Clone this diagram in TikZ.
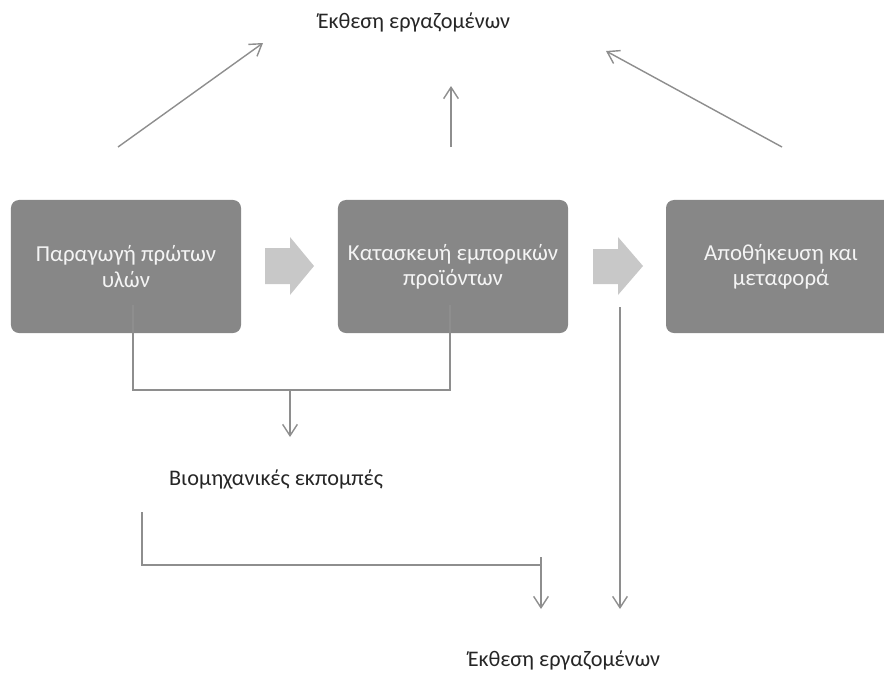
\documentclass[tikz,border=0pt]{standalone}
\usepackage{fontspec}
\setmainfont{Carlito}
\usetikzlibrary{arrows.meta}
\definecolor{boxgray}{HTML}{878787}
\definecolor{boxtext}{HTML}{F4F4F4}
\definecolor{linegray}{HTML}{8E8E8E}
\definecolor{flowgray}{HTML}{C8C8C8}
\definecolor{notetext}{HTML}{262626}
\tikzset{
  stage/.style={shape=rectangle,rounded corners=0.24cm,fill=boxgray,text=boxtext,align=center,inner sep=0pt,
    minimum width=6.9cm,minimum height=3.99cm,font=\fontsize{19.5}{21.5}\selectfont},
  note/.style={align=center,inner sep=0pt,text=notetext,font=\fontsize{19}{22}\selectfont},
  wire/.style={draw=linegray,line width=1.2pt},
  conn/.style={wire,-{Straight Barb[length=3.4mm,width=4.4mm,line width=1.2pt]}},
  flow/.style={fill=flowgray,draw=none}
}

\begin{document}
\begin{tikzpicture}[x=0.03cm,y=-0.03cm]
\useasboundingbox (0,0) rectangle (884,673);
\clip (0,0) rectangle (884,673);

\node[stage] (0) at (126,266.5) {Παραγωγή πρώτων\\υλών};
\node[stage] (1) at (453,266.5) {Κατασκευή εμπορικών\\προϊόντων};
\node[stage] (2) at (781,266.5) {Αποθήκευση και\\μεταφορά};
\node[note] (3) at (414,22) {Έκθεση εργαζομένων};
\node[note] (4) at (276,480) {Βιομηχανικές εκπομπές};
\node[note] (5) at (564,660) {Έκθεση εργαζομένων};

% block arrows between the stages
\path[flow] (265,248) -- (290,248) -- (290,237) -- (314,266) -- (290,295) -- (290,284) -- (265,284) -- cycle;
\path[flow] (593,249) -- (618,249) -- (618,237) -- (643,266) -- (618,295) -- (618,284) -- (593,284) -- cycle;

\coordinate (a0) at (118,147);
\coordinate (a1) at (263,43);
\coordinate (b0) at (451,147);
\coordinate (b1) at (451,86);
\coordinate (c0) at (782,147);
\coordinate (c1) at (606,51);
\coordinate (d0) at (133,305);
\coordinate (d1) at (450,305);
\coordinate (d2) at (290,390);
\coordinate (d3) at (290,437);
\coordinate (e0) at (142,512);
\coordinate (e1) at (541,565);
\coordinate (e2) at (541,557);
\coordinate (e3) at (541,609);
\coordinate (f0) at (620,307);
\coordinate (f1) at (620,609);

\draw [conn] (a0) -- (a1);
\draw [conn] (b0) -- (b1);
\draw [conn] (c0) -- (c1);
\draw [wire] (d0) |- (d2) -| (d1);
\draw [conn] (d2) -- (d3);
\draw [wire] (e0) |- (e1);
\draw [conn] (e2) -- (e3);
\draw [conn] (f0) -- (f1);
\end{tikzpicture}
\end{document}
